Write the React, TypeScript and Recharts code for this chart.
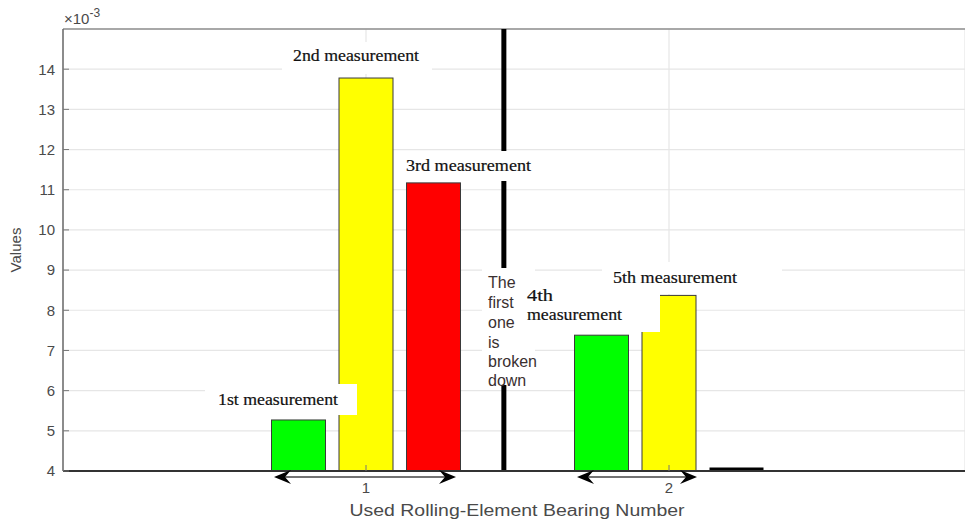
import { Bar, ComposedChart, CartesianGrid, ReferenceLine, XAxis, YAxis } from "recharts"

const bearings = ["1", "2"]
const bearingPos = [1, 2]
const greenValues = [5.27, 7.38] // 1st / 4th measurement
const yellowValues = [13.78, 8.37] // 2nd / 5th measurement
const redValues = [11.17, 4] // 3rd measurement, nothing on bearing 2
const yTicks = [4, 5, 6, 7, 8, 9, 10, 11, 12, 13, 14]
const brokenAt = 1.455

const data = bearings.map((b, i) => ({
  bearing: b,
  pos: bearingPos[i],
  green: greenValues[i],
  yellow: yellowValues[i],
  red: redValues[i],
}))

const serif = "'Liberation Serif', 'Times New Roman', serif"
const sans = "'Liberation Sans', Arial, sans-serif"
const tickColor = "#4a4a4a"

const BarShape = (props: any) => {
  const { x, y, width, height, fill } = props
  if (!height || height < 1) {
    return <line x1={x} x2={x + width} y1={y - 1.5} y2={y - 1.5} stroke="#000" strokeWidth={4} />
  }
  return <rect x={x} y={y} width={width} height={height} fill={fill} stroke="#3a3a3a" strokeWidth={1} />
}

const YTick = (props: any) => {
  const { x, y, payload } = props
  return (
    <g>
      <line x1={x + 8} x2={x + 14} y1={y} y2={y} stroke="#777" />
      <text x={x} y={y} dy="0.36em" textAnchor="end" fontSize={15} fill={tickColor} fontFamily={sans}>
        {payload.value}
      </text>
    </g>
  )
}

const XTick = (props: any) => {
  const { x, y, payload } = props
  return (
    <g>
      <line x1={x} x2={x} y1={y - 11} y2={y - 17} stroke="#777" />
      <text x={x} y={y} dy="0.71em" textAnchor="middle" fontSize={15} fill={tickColor} fontFamily={sans}>
        {payload.value}
      </text>
    </g>
  )
}

const RightTick = (props: any) => {
  const { x, y } = props
  return <line x1={x - 7} x2={x} y1={y} y2={y} stroke="#777" />
}

const Arrow = ({ x1, x2, y }: { x1: number; x2: number; y: number }) => (
  <g>
    <line x1={x1 + 6} x2={x2 - 6} y1={y} y2={y} stroke="#444" strokeWidth={1.5} />
    <path d={`M${x2},${y} L${x2 - 17},${y - 7} L${x2 - 11},${y} L${x2 - 17},${y + 7} Z`} fill="#000" />
    <path d={`M${x1},${y} L${x1 + 17},${y - 7} L${x1 + 11},${y} L${x1 + 17},${y + 7} Z`} fill="#000" />
  </g>
)

const Note = ({ x, y, len, children }: { x: number; y: number; len: number; children: string }) => (
  <text
    x={x}
    y={y}
    fontSize={16}
    fontFamily={serif}
    fill="#111"
    stroke="#111"
    strokeWidth={0.2}
    textLength={len}
    lengthAdjust="spacingAndGlyphs"
  >
    {children}
  </text>
)

export default function App() {
  return (
    <div style={{ position: "absolute", left: 0, top: 0, width: 965, height: 522, background: "#fff" }}>
      <ComposedChart
        width={965}
        height={522}
        data={data}
        margin={{ top: 29, right: 0, bottom: 0, left: 0 }}
        barSize={54}
        barGap={13.5}
      >
        <CartesianGrid stroke="#e6e6e6" strokeWidth={1.2} />
        <XAxis
          dataKey="bearing"
          height={51}
          padding={{ left: 151.5, right: 144.5 }}
          axisLine={{ stroke: "#333", strokeWidth: 2 }}
          tickLine={false}
          tickSize={0}
          tickMargin={11}
          tick={<XTick />}
          label={{
            content: (p: any) => {
              const vb = p.viewBox
              return (
                <text
                  x={vb.x + vb.width / 2 + 3}
                  y={516}
                  textAnchor="middle"
                  fontSize={16}
                  fill={tickColor}
                  fontFamily={sans}
                  textLength={335}
                  lengthAdjust="spacingAndGlyphs"
                >
                  Used Rolling-Element Bearing Number
                </text>
              )
            },
          }}
        />
        <XAxis
          xAxisId="n"
          dataKey="pos"
          type="number"
          domain={[0, 902 / 303]}
          allowDataOverflow
          hide
        />
        <YAxis
          width={63}
          domain={[4, 15]}
          ticks={yTicks}
          allowDataOverflow
          axisLine={{ stroke: "#6b6b6b", strokeWidth: 1.5 }}
          tickLine={false}
          tick={<YTick />}
          label={{
            content: (p: any) => {
              const vb = p.viewBox
              const cy = vb.y + vb.height / 2
              return (
                <text
                  x={16}
                  y={cy}
                  transform={`rotate(-90, 16, ${cy})`}
                  dy="0.36em"
                  textAnchor="middle"
                  fontSize={15}
                  fill={tickColor}
                  fontFamily={sans}
                >
                  Values
                </text>
              )
            },
          }}
        />
        <YAxis
          yAxisId="r"
          orientation="right"
          width={0}
          domain={[4, 15]}
          ticks={yTicks}
          axisLine={false}
          tickLine={false}
          tickSize={0}
          tickMargin={0}
          tick={<RightTick />}
        />
        <Bar dataKey="green" fill="#00ff00" shape={<BarShape />} isAnimationActive={false} />
        <Bar dataKey="yellow" fill="#ffff00" shape={<BarShape />} isAnimationActive={false} />
        <Bar dataKey="red" fill="#ff0000" shape={<BarShape />} isAnimationActive={false} />
        <ReferenceLine y={15} stroke="#8f8f8f" strokeWidth={1.5} />
        <ReferenceLine xAxisId="n" x={brokenAt} stroke="#000" strokeWidth={5} ifOverflow="visible" />
      </ComposedChart>

      <svg width={965} height={522} style={{ position: "absolute", left: 0, top: 0, pointerEvents: "none" }}>
        <text x={64} y={24} fontSize={15} fill={tickColor} fontFamily={sans}>
          ×10
          <tspan fontSize={12} dy={-7}>
            -3
          </tspan>
        </text>

        <rect x={282} y={42} width={150} height={32} fill="#fff" />
        <rect x={400} y={151} width={145} height={30} fill="#fff" />
        <rect x={205} y={384} width={152} height={31} fill="#fff" />
        <rect x={482} y={268} width={53} height={117} fill="#fff" />
        <rect x={520} y={283} width={140} height={49} fill="#fff" />
        <rect x={602} y={262} width={180} height={32} fill="#fff" />

        <Note x={293} y={61} len={126}>2nd measurement</Note>
        <Note x={406} y={171} len={125}>3rd measurement</Note>
        <Note x={218} y={405} len={120}>1st measurement</Note>
        <Note x={527} y={301} len={26}>4th</Note>
        <Note x={527} y={320} len={95}>measurement</Note>
        <Note x={613} y={283} len={124}>5th measurement</Note>

        <text fontSize={16} fontFamily={sans} fill="#3a3030">
          <tspan x={488} y={288}>The</tspan>
          <tspan x={488} y={308}>first</tspan>
          <tspan x={488} y={328}>one</tspan>
          <tspan x={488} y={348}>is</tspan>
          <tspan x={488} y={367}>broken</tspan>
          <tspan x={488} y={386}>down</tspan>
        </text>

        <Arrow x1={274} x2={456} y={477} />
        <Arrow x1={577} x2={697} y={477} />
      </svg>
    </div>
  )
}
